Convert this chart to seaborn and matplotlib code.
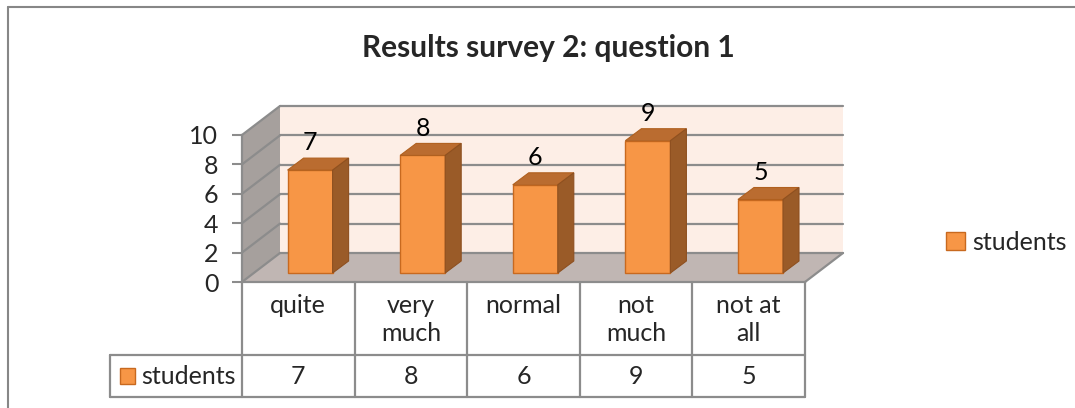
import numpy as np
import matplotlib.pyplot as plt
from matplotlib.patches import Polygon, Rectangle, Patch
from matplotlib.lines import Line2D
import seaborn as sns

categories = ["quite", "very much", "normal", "not much", "not at all"]
cat_labels = ["quite", "very\nmuch", "normal", "not\nmuch", "not at\nall"]
students = [7, 8, 6, 9, 5]
series_name = "students"
title = "Results survey 2: question 1"

sns.set_style("white")
plt.rcParams["font.family"] = ["Lato", "DejaVu Sans"]

W, H = 1075, 408
fig = plt.figure(figsize=(W / 100, H / 100), dpi=100)
fs = 18

# front plane of the 3d box (pixels)
x0p, x1p, y0p, y1p = 242, 805, 282, 135
ax = fig.add_axes([x0p / W, 1 - y0p / H, (x1p - x0p) / W, (y0p - y1p) / H])
ax.set_xlim(-0.5, len(categories) - 0.5)
ax.set_ylim(0, 10)

px_x = (x1p - x0p) / len(categories)   # pixels per category
px_y = (y0p - y1p) / 10                # pixels per unit
DX, DY = 38 / px_x, 29 / px_y          # depth of the box in data units

grid_c = "#8C8C8C"
orange = "#F79646"
edge_o = "#C8691F"
n = len(categories)
lo, hi = -0.5, n - 0.5

# walls and floor
ax.add_patch(Polygon([(lo + DX, DY), (hi + DX, DY), (hi + DX, 10 + DY), (lo + DX, 10 + DY)],
                     closed=True, fc="#FDEEE6", ec="none", zorder=0.2, clip_on=False))
ax.add_patch(Polygon([(lo, 0), (lo + DX, DY), (lo + DX, 10 + DY), (lo, 10)],
                     closed=True, fc="#A6A09D", ec="none", zorder=0.2, clip_on=False))
ax.add_patch(Polygon([(lo, 0), (hi, 0), (hi + DX, DY), (lo + DX, DY)],
                     closed=True, fc="#C0B6B3", ec="none", zorder=0.3, clip_on=False))
for k in range(0, 11, 2):
    ax.add_line(Line2D([lo + DX, hi + DX], [k + DY, k + DY], color=grid_c, lw=1.6,
                       zorder=0.4, clip_on=False))
    ax.add_line(Line2D([lo, lo + DX], [k, k + DY], color=grid_c, lw=1.6,
                       zorder=0.4, clip_on=False))
ax.add_line(Line2D([hi, hi + DX], [0, DY], color=grid_c, lw=1.6, zorder=0.4, clip_on=False))

# bars
sns.barplot(x=categories, y=students, color=orange, saturation=1, width=0.4,
            edgecolor=edge_o, linewidth=1, ax=ax, zorder=2)

fx, fy = 0.31 * DX, 0.31 * DY      # bar front face position inside the box
sx, sy = 16 / px_x, 12 / px_y      # bar depth
for p, v in zip(ax.containers[0], students):
    p.set_x(p.get_x() + fx)
    p.set_y(fy)
    p.set_clip_on(False)
    bx0, bx1 = p.get_x(), p.get_x() + p.get_width()
    top = fy + v
    ax.add_patch(Polygon([(bx0, top), (bx1, top), (bx1 + sx, top + sy), (bx0 + sx, top + sy)],
                         closed=True, fc="#BA6C30", ec="#B0601F", lw=0.8, zorder=2.1, clip_on=False))
    ax.add_patch(Polygon([(bx1, fy), (bx1 + sx, fy + sy), (bx1 + sx, top + sy), (bx1, top)],
                         closed=True, fc="#9A5B28", ec="#8E5020", lw=0.8, zorder=2.1, clip_on=False))
    ax.text((bx0 + bx1) / 2, top + 1.85, str(v), ha="center", va="center",
            fontsize=fs, color="black", zorder=3)

# axes styling
ax.set_xticks([])
ax.set_yticks(range(0, 11, 2))
ax.tick_params(axis="y", left=True, length=7, width=1.5, color=grid_c, labelsize=fs, pad=10)
ax.set_xlabel("")
ax.set_ylabel("")
for s in ["top", "right"]:
    ax.spines[s].set_visible(False)
for s in ["left", "bottom"]:
    ax.spines[s].set_color(grid_c)
    ax.spines[s].set_linewidth(1.6)
ax.patch.set_alpha(0)

# data table under the chart
tr = ax.get_xaxis_transform()
hdr = -73 / (y0p - y1p)
bot = -115 / (y0p - y1p)
leg_left = lo - (x0p - 110) / px_x
for k in range(n + 1):
    ax.add_line(Line2D([lo + k, lo + k], [0, bot], color=grid_c, lw=1.6, transform=tr, clip_on=False))
ax.add_line(Line2D([leg_left, hi], [hdr, hdr], color=grid_c, lw=1.6, transform=tr, clip_on=False))
ax.add_line(Line2D([leg_left, hi], [bot, bot], color=grid_c, lw=1.6, transform=tr, clip_on=False))
ax.add_line(Line2D([leg_left, leg_left], [hdr, bot], color=grid_c, lw=1.6, transform=tr, clip_on=False))
for i, (lab, v) in enumerate(zip(cat_labels, students)):
    ax.text(i, -0.085, lab, transform=tr, ha="center", va="top", fontsize=fs,
            linespacing=1.25)
    ax.text(i, (hdr + bot) / 2, str(v), transform=tr, ha="center", va="center", fontsize=fs)
key_x = leg_left + 10 / px_x
ax.add_patch(Rectangle((key_x, (hdr + bot) / 2 - 0.055), 15 / px_x, 0.11, transform=tr,
                       fc=orange, ec=edge_o, lw=1, clip_on=False))
ax.text(key_x + 21 / px_x, (hdr + bot) / 2, series_name, transform=tr, ha="left",
        va="center", fontsize=fs)

# legend on the right
fig.legend(handles=[Patch(fc=orange, ec=edge_o, lw=1)], labels=[series_name],
           loc="center left", bbox_to_anchor=(946 / W, 1 - 242 / H), frameon=False,
           fontsize=fs, handlelength=0.75, handleheight=0.75, handletextpad=0.3,
           borderpad=0, borderaxespad=0)

fig.text(548 / W, 1 - 48 / H, title, ha="center", va="center", fontsize=21.5, fontweight="bold")

# chart border
fig.add_artist(Line2D([8 / W, 8 / W], [0, 1 - 7 / H], color="#878787", lw=1.5))
fig.add_artist(Line2D([8 / W, 1], [1 - 7 / H, 1 - 7 / H], color="#878787", lw=1.5))

fig.savefig("out.png", dpi=100)
